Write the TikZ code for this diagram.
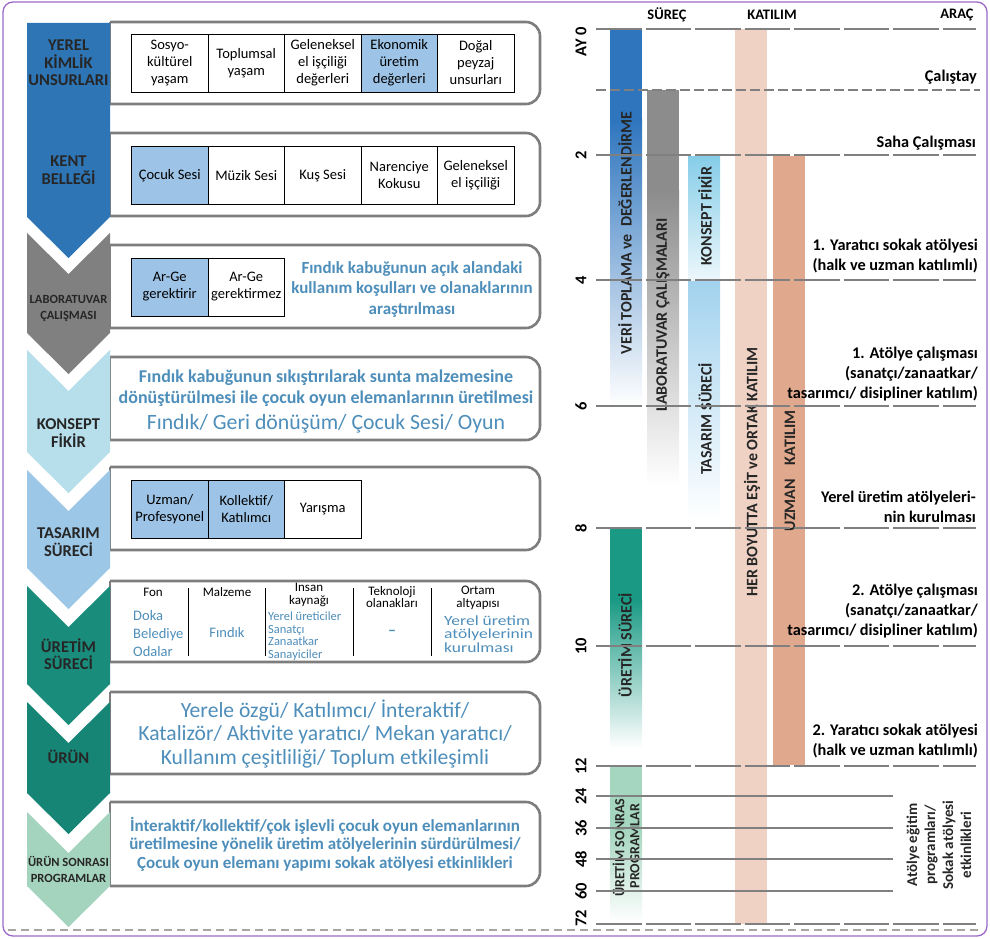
\documentclass[tikz,border=0pt]{standalone}
\usepackage{fontspec}
\setmainfont{Carlito}
\newfontfamily\wideCarlito{Carlito}[FakeStretch=1.25]
\usetikzlibrary{positioning}

\definecolor{framepurple}{RGB}{155,105,200}
\definecolor{boxgray}{RGB}{125,125,125}
\definecolor{cellblue}{RGB}{157,195,230}
\definecolor{txtblue}{RGB}{78,142,186}
\definecolor{chevA}{RGB}{46,117,182}
\definecolor{chevB}{RGB}{128,128,128}
\definecolor{chevC}{RGB}{183,222,235}
\definecolor{chevD}{RGB}{157,199,230}
\definecolor{chevE}{RGB}{26,140,124}
\definecolor{chevF}{RGB}{22,133,118}
\definecolor{chevG}{RGB}{165,212,190}
\definecolor{tlgray}{RGB}{128,128,128}
\definecolor{barveri}{RGB}{46,117,190}
\definecolor{barlab}{RGB}{140,140,140}
\definecolor{barkon}{RGB}{134,205,232}
\definecolor{bartas}{RGB}{162,210,238}
\definecolor{barher}{RGB}{240,210,196}
\definecolor{baruzm}{RGB}{224,168,140}
\definecolor{baruret}{RGB}{26,154,132}
\definecolor{barsonra}{RGB}{165,214,192}

\tikzset{
    boxedge/.style = {draw=boxgray, line width=2.6pt, rounded corners=14pt},
    cell/.style = {draw=black, line width=0.8pt, minimum width=76.5pt, minimum height=58pt, inner sep=1pt, outer sep=0pt, align=center, font=\fontsize{14.5}{17}\selectfont},
    cellhi/.style = {cell, fill=cellblue},
    chevtext/.style = {align=center, inner sep=0pt, text=black!85, font=\bfseries\fontsize{16.5}{17.5}\selectfont},
    chevsmall/.style = {chevtext, font=\bfseries\fontsize{12.5}{16}\selectfont},
    bluetext/.style = {align=center, inner sep=0pt, text=txtblue, font=\bfseries\fontsize{17}{20.5}\selectfont},
    headtext/.style = {align=center, inner sep=0pt, font=\fontsize{13}{12.5}\selectfont},
    month/.style = {rotate=90, inner sep=0pt, font=\bfseries\fontsize{16.5}{16.5}\selectfont},
    event/.style = {anchor=east, align=right, inner sep=0pt, font=\bfseries\fontsize{16.3}{20}\selectfont},
    barlabel/.style = {rotate=90, inner sep=0pt, align=center, text=black!85, font=\bfseries\fontsize{16}{16}\selectfont},
    coltitle/.style = {inner sep=0pt, font=\bfseries\fontsize{14.5}{15}\selectfont},
    tl/.style = {draw=tlgray, line width=2.6pt},
    tldash/.style = {tl, dash pattern=on 45.5pt off 4pt}
}

% panel with round right corners: top, bottom
\newcommand{\panel}[2]{%
    \fill[white] (110,#1) rectangle (540,#2);
    \draw[boxedge] (110,#1) -- (540,#1) -- (540,#2) -- (110,#2);
    \draw[draw=boxgray, line width=2.6pt] (110,#1) -- (110,#2);}
% chevron: top, shoulder, colour, notch depth
\newcommand{\chevshape}[4]{%
    \fill[#3] (27,#1) -- (68.5,#1+#4) -- (110,#1) -- (110,#2) -- (68.5,#2+41) -- (27,#2) -- cycle;}

\begin{document}
\begin{tikzpicture}[x=1pt, y=-1pt]
\useasboundingbox (0,0) rectangle (990,939);
\draw[framepurple, line width=1.3pt, rounded corners=10pt] (3,2) rectangle (987,936);
\draw[gray!70, line width=1.2pt, dash pattern=on 8pt off 5pt] (8,930) -- (982,930);

% left: panels
\panel{22}{104}
\panel{133}{216}
\panel{245}{328}
\panel{357}{440}
\panel{467}{550}
\panel{581}{662}
\panel{692}{774}
\panel{802}{886}

% left: chevrons
\chevshape{23}{217}{chevA}{0}
\chevshape{233}{333}{chevB}{41}
\chevshape{350}{452}{chevC}{41}
\chevshape{470}{568}{chevD}{41}
\chevshape{586}{684}{chevE}{41}
\chevshape{702}{793}{chevF}{41}
\chevshape{812}{886}{chevG}{41}

\node[chevtext] (yerel) at (68.5,63) {YEREL\\KİMLİK\\UNSURLARI};
\node[chevtext] (kent) at (68.5,170) {KENT\\BELLEĞİ};
\node[chevsmall] (lab) at (68.5,308) {LABORATUVAR\\ÇALIŞMASI};
\node[chevtext] (konsept) at (68.5,433) {KONSEPT\\FİKİR};
\node[chevtext] (tasarim) at (68.5,542) {TASARIM\\SÜRECİ};
\node[chevtext] (uretim) at (68.5,654) {ÜRETİM\\SÜRECİ};
\node[chevtext] (urun) at (68.5,757) {ÜRÜN};
\node[chevsmall] (sonrasi) at (68.5,869) {ÜRÜN SONRASI\\PROGRAMLAR};

% yerel kimlik
\node[cell, anchor=west] (sosyo) at (131.5,63) {Sosyo-\\kültürel\\yaşam};
\node[cell, right=0pt of sosyo] (toplum) {Toplumsal\\yaşam};
\node[cell, right=0pt of toplum] (gelenek) {Geleneksel\\el işçiliği\\değerleri};
\node[cellhi, right=0pt of gelenek] (ekonomi) {Ekonomik\\üretim\\değerleri};
\node[cell, right=0pt of ekonomi] (dogal) {Doğal\\peyzaj\\unsurları};

% kent bellegi
\node[cellhi, anchor=west] (cocuk) at (131.5,175.5) {Çocuk Sesi};
\node[cell, right=0pt of cocuk] (muzik) {Müzik Sesi};
\node[cell, right=0pt of muzik] (kus) {Kuş Sesi};
\node[cell, right=0pt of kus] (narenc) {Narenciye\\Kokusu};
\node[cell, right=0pt of narenc] (elisi) {Geleneksel\\el işçiliği};

% laboratuvar
\node[cellhi, anchor=west] (arge) at (131.5,287) {Ar-Ge\\gerektirir};
\node[cell, right=0pt of arge] (argeyok) {Ar-Ge\\gerektirmez};
\node[bluetext] (labnot) at (412,289) {Fındık kabuğunun açık alandaki\\kullanım koşulları ve olanaklarının\\araştırılması};

% konsept
\node[bluetext, font=\bfseries\fontsize{18}{20.5}\selectfont] (kontext) at (326,388) {Fındık kabuğunun sıkıştırılarak sunta malzemesine\\dönüştürülmesi ile çocuk oyun elemanlarının üretilmesi};
\node[inner sep=0pt, text=txtblue, font=\fontsize{21.8}{23}\selectfont, below=8pt of kontext] (konkey) {Fındık/ Geri dönüşüm/ Çocuk Sesi/ Oyun};

% tasarim
\node[cellhi, anchor=west] (uzman) at (131.5,509) {Uzman/\\Profesyonel};
\node[cellhi, right=0pt of uzman] (kollek) {Kollektif/\\Katılımcı};
\node[cell, right=0pt of kollek] (yaris) {Yarışma};

% uretim
\foreach \x in {188,265.5,353.5,431}
    \draw[black, line width=0.8pt] (\x,588) -- (\x,656);
\node[headtext] (fon) at (153,592) {Fon};
\node[headtext] (malz) at (227,592) {Malzeme};
\node[headtext] (insan) at (309,595) {Insan\\kaynağı};
\node[headtext] (tekno) at (392,597) {Teknoloji\\olanakları};
\node[headtext] (ortam) at (478,598) {Ortam\\altyapısı};
\node[anchor=west, align=left, inner sep=0pt, text=txtblue, font=\fontsize{14.5}{18}\selectfont] (fonval) at (133,634) {Doka\\Belediye\\Odalar};
\node[inner sep=0pt, text=txtblue, font=\fontsize{14.5}{18}\selectfont] (malzval) at (227,633) {Fındık};
\node[anchor=west, align=left, inner sep=0pt, text=txtblue, font=\fontsize{12.5}{12.6}\selectfont] (insanval) at (268,636) {Yerel üreticiler\\Sanatçı\\Zanaatkar\\Sanayiciler};
\node[inner sep=0pt, text=txtblue, font=\bfseries\fontsize{16}{16}\selectfont] (teknoval) at (392,633) {–};
\node[anchor=west, align=left, inner sep=0pt, text=txtblue, font=\wideCarlito\fontsize{14}{13.5}\selectfont] (ortamval) at (444,634) {Yerel üretim\\atölyelerinin\\kurulması};

% urun
\node[align=center, inner sep=0pt, text=txtblue, font=\fontsize{21.6}{23.5}\selectfont] (urunval) at (325,734) {Yerele özgü/ Katılımcı/ İnteraktif/\\Katalizör/ Aktivite yaratıcı/ Mekan yaratıcı/\\Kullanım çeşitliliği/ Toplum etkileşimli};

% urun sonrasi
\node[bluetext, font=\bfseries\fontsize{17}{18.5}\selectfont] (sonval) at (325,844) {İnteraktif/kollektif/çok işlevli çocuk oyun elemanlarının\\üretilmesine yönelik üretim atölyelerinin sürdürülmesi/\\Çocuk oyun elemanı yapımı sokak atölyesi etkinlikleri};

% right: bars
\fill[barveri] (610,29) rectangle (642,120);
\shade[top color=barveri, bottom color=white] (610,120) rectangle (642,406);
\fill[barlab] (647,90) rectangle (679,190);
\shade[top color=barlab, bottom color=white] (647,190) rectangle (679,485);
\shade[top color=barkon, bottom color=barkon!15] (688,156) rectangle (720,281);
\shade[top color=bartas, bottom color=white] (688,281) rectangle (720,520);
\fill[barher] (735,29) rectangle (767,924);
\fill[baruzm] (773,156) rectangle (805,765);
\fill[baruret] (610,528) rectangle (642,600);
\shade[top color=baruret, bottom color=white] (610,600) rectangle (642,748);
\fill[barsonra] (610,765) rectangle (642,830);
\shade[top color=barsonra, bottom color=white] (610,830) rectangle (642,922);

\node[barlabel] (veri) at (625,233) {VERİ TOPLAMA ve \ DEĞERLENDİRME};
\node[barlabel] (labbar) at (663,315) {LABORATUVAR ÇALIŞMALARI};
\node[barlabel] (konbar) at (705,216) {KONSEPT FİKİR};
\node[barlabel] (tasbar) at (705,419) {TASARIM SÜRECİ};
\node[barlabel] (herbar) at (752,472) {HER BOYUTTA EŞİT ve ORTAK KATILIM};
\node[barlabel] (uzmbar) at (790,471) {UZMAN\hspace{14pt}KATILIM};
\node[barlabel] (uretbar) at (625,645) {ÜRETİM SÜRECİ};
\node[barlabel, font=\bfseries\fontsize{14}{15}\selectfont] (sonbar) at (626,846) {ÜRETİM SONRASI\\PROGRAMLAR};

% right: time lines
\foreach \y in {29,155,280,406,528,646,766,924}
    \draw[tldash] (596,\y) -- (976,\y);
\draw[tl, dash pattern=on 10pt off 4pt] (596,90) -- (980,90);
\foreach \y in {796,828,859,891}
    \draw[tl] (596,\y) -- (893,\y);

% right: months
\node[month, anchor=east] (ay0) at (581,27) {AY 0};
\foreach \y/\m in {155/2,280/4,406/6,528/8,646/10,766/12,796/24,828/36,859/48,891/60,918/72}
    \node[month] (m\m) at (581,\y) {\m};

% right: column titles
\node[coltitle] (surec) at (667,15) {SÜREÇ};
\node[coltitle] (katilim) at (772,15) {KATILIM};
\node[coltitle] (arac) at (957,15) {ARAÇ};

% right: events
\node[event] (calistay) at (977,77) {Çalıştay};
\node[event] (saha) at (976,143) {Saha Çalışması};
\node[event] (sokak1) at (978,256) {1. Yaratıcı sokak atölyesi\\(halk ve uzman katılımlı)};
\node[event] (atolye1) at (978,374) {1. Atölye çalışması\\(sanatçı/zanaatkar/\\tasarımcı/ disipliner katılım)};
\node[event] (yerelu) at (976,507) {Yerel üretim atölyeleri-\\nin kurulması};
\node[event] (atolye2) at (978,611) {2. Atölye çalışması\\(sanatçı/zanaatkar/\\tasarımcı/ disipliner katılım)};
\node[event] (sokak2) at (978,741) {2. Yaratıcı sokak atölyesi\\(halk ve uzman katılımlı)};
\node[barlabel, font=\bfseries\fontsize{15}{18}\selectfont] (egitim) at (939,845) {Atölye eğitim\\programları/\\Sokak atölyesi\\etkinlikleri};
\end{tikzpicture}
\end{document}
